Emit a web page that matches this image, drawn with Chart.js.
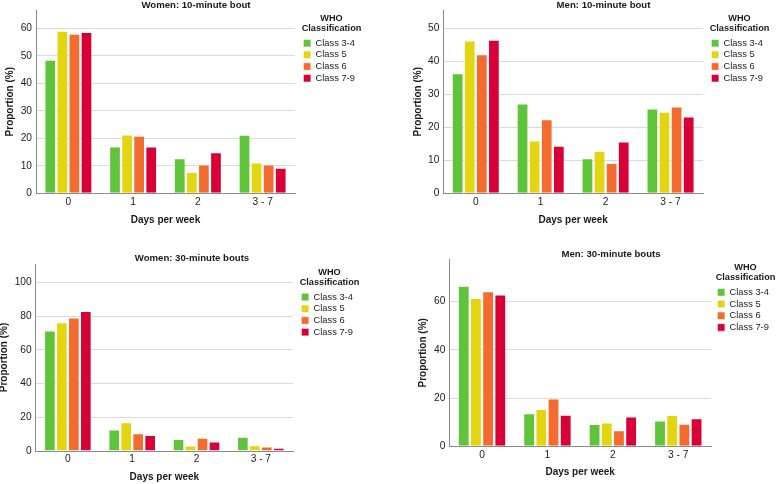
<!DOCTYPE html>
<html>
<head>
<meta charset="utf-8">
<script src="https://cdn.jsdelivr.net/npm/chart.js@4.4.1/dist/chart.umd.min.js"></script>
<style>
html, body { margin: 0; padding: 0; background: #fff; overflow: hidden; }
body { position: relative; width: 777px; height: 484px; }
canvas { position: absolute; }
</style>
</head>
<body>
<canvas id="women10"></canvas>
<canvas id="men10"></canvas>
<canvas id="women30"></canvas>
<canvas id="men30"></canvas>
<script>
"use strict"

// categories on the x axis and the WHO classes (one bar series each)
const days = ['0', '1', '2', '3 - 7'];
const classes = ['Class 3-4', 'Class 5', 'Class 6', 'Class 7-9'];
const classColors = ['#5fc43b', '#e2d512', '#f36b2e', '#d80037'];

// proportion (%) per class, values follow `days`
const women10 = [
    [48.6, 17.0, 12.7, 21.3],
    [59.1, 21.4, 7.7, 11.2],
    [58.0, 20.9, 10.5, 10.5],
    [58.6, 17.0, 14.9, 9.3]
];
const men10 = [
    [36.4, 27.2, 10.6, 25.7],
    [46.3, 16.0, 12.9, 24.7],
    [42.1, 22.4, 9.2, 26.3],
    [46.5, 14.4, 15.7, 23.3]
];
const women30 = [
    [71.5, 12.8, 7.1, 8.5],
    [76.3, 17.0, 3.2, 3.4],
    [79.1, 10.5, 7.9, 2.6],
    [83.0, 9.5, 5.7, 2.0]
];
const men30 = [
    [66.5, 13.7, 9.2, 10.7],
    [61.5, 15.5, 9.9, 13.0],
    [64.3, 19.8, 6.7, 9.3],
    [62.9, 13.1, 12.4, 11.6]
];

// y axis: top of the axis and tick spacing per panel
const yMaxes = [66.6, 55.5, 110.9, 77.5];
const ySteps = [10, 10, 20, 20];

const titles = [
    'Women: 10-minute bout',
    'Men: 10-minute bout',
    'Women: 30-minute bouts',
    'Men: 30-minute bouts'
];

Chart.defaults.font.family = '"Liberation Sans", Arial, sans-serif';
Chart.defaults.color = '#222';

// where each canvas sits and how its boxes are sized
const panels = [
    {id: 'women10', values: women10, x: 0,   y: 0,   w: 392, h: 230, yAxisW: 36,   yTitleTop: 4,   gapIn: 6, outer: 30, titleTop: 0.16,  titleBottom: 0.46, xAxisH: 36.7, xTitleBottom: 4},
    {id: 'men10',   values: men10,   x: 400, y: 0,   w: 407, h: 230, yAxisW: 43.3, yTitleTop: 12,  gapIn: 6, outer: 37, titleTop: 0.16,  titleBottom: 0.46, xAxisH: 36.7, xTitleBottom: 4},
    {id: 'women30', values: women30, x: -4,  y: 240, w: 392, h: 244, yAxisW: 39.7, yTitleTop: 2.7, gapIn: 6, outer: 28, titleTop: 14.46, titleBottom: 1.86, xAxisH: 33,   xTitleBottom: 0.3},
    {id: 'men30',   values: men30,   x: 405, y: 240, w: 412, h: 244, yAxisW: 44.3, yTitleTop: 12,  gapIn: 4, outer: 41, titleTop: 10.16, titleBottom: 1.46, xAxisH: 37.7, xTitleBottom: 5.7}
];

// invisible right-hand boxes used only to keep space around the legend
function spacer(weight, width){
    return {
        type: 'linear', position: 'right', display: true, weight: weight,
        grid: {display: false}, border: {display: false}, ticks: {display: false},
        afterFit: function(s){ s.width = width; }
    };
}

function makeChart(p, i){
    const cv = document.getElementById(p.id);
    cv.width = p.w;
    cv.height = p.h;
    cv.style.left = p.x + 'px';
    cv.style.top = p.y + 'px';

    const datasets = classes.map(function(name, k){
        return {
            label: name,
            data: p.values[k],
            backgroundColor: classColors[k],
            borderColor: 'rgba(255,255,255,0.55)',
            borderWidth: 1,
            categoryPercentage: 0.745,
            barPercentage: 0.97
        };
    });

    new Chart(cv, {
        type: 'bar',
        data: {labels: days, datasets: datasets},
        options: {
            responsive: false,
            animation: false,
            devicePixelRatio: 1,
            layout: {padding: 0},
            plugins: {
                tooltip: {enabled: false},
                title: {
                    display: true,
                    text: titles[i],
                    color: '#1a1a1a',
                    font: {size: 9.6, weight: 'bold', lineHeight: 0.8},
                    padding: {top: p.titleTop, bottom: p.titleBottom}
                },
                legend: {
                    position: 'right',
                    align: 'start',
                    fullSize: false,
                    maxWidth: 61,
                    title: {
                        display: true,
                        text: ['WHO', 'Classification'],
                        color: '#1a1a1a',
                        font: {size: 9.2, weight: 'bold', lineHeight: 1.08},
                        padding: {top: 3.6, bottom: 12.45}
                    },
                    labels: {
                        boxWidth: 7.5,
                        boxHeight: 7.5,
                        padding: 2.4,
                        color: '#222',
                        font: {size: 9.3}
                    }
                }
            },
            scales: {
                x: {
                    grid: {display: false, drawTicks: false},
                    border: {color: '#8c8c8c'},
                    ticks: {color: '#222', font: {size: 10.2}, padding: 2.5},
                    title: {
                        display: true,
                        text: 'Days per week',
                        color: '#1a1a1a',
                        font: {size: 10, weight: 'bold'},
                        padding: {top: 0, bottom: p.xTitleBottom}
                    },
                    afterFit: function(s){ s.height = p.xAxisH; }
                },
                y: {
                    min: 0,
                    max: yMaxes[i],
                    grid: {color: '#dadada', drawTicks: false},
                    border: {color: '#8c8c8c'},
                    ticks: {stepSize: ySteps[i], includeBounds: false, padding: 4, color: '#222', font: {size: 10.2}},
                    title: {
                        display: true,
                        text: 'Proportion (%)',
                        color: '#1a1a1a',
                        font: {size: 10, weight: 'bold'},
                        padding: {top: p.yTitleTop, bottom: 0}
                    },
                    afterFit: function(s){ s.width = p.yAxisW; }
                },
                gapIn: spacer(0, p.gapIn),
                gapOut: spacer(2000, p.outer)
            }
        }
    });
}

panels.forEach(makeChart);
</script>
</body>
</html>
